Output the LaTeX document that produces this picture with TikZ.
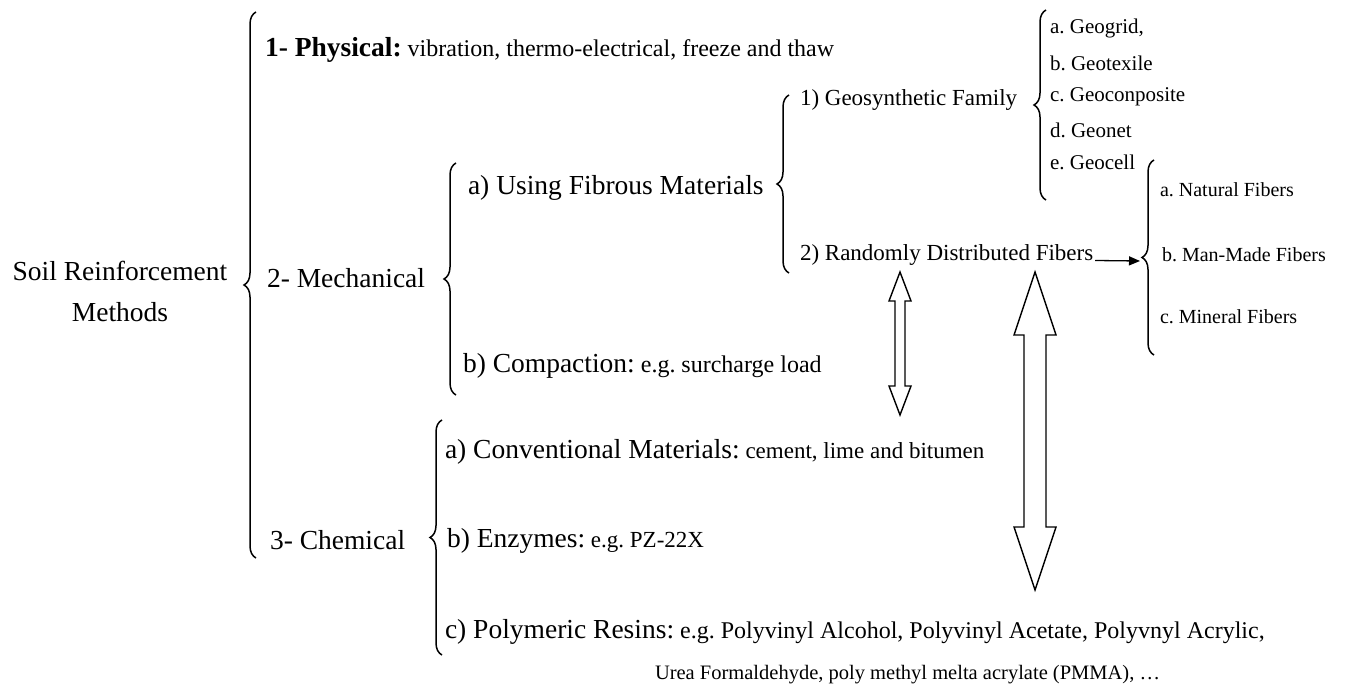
\documentclass[tikz,border=0pt]{standalone}
\usepackage{fontspec}
\setmainfont{Liberation Serif}
\usetikzlibrary{decorations.pathreplacing,arrows.meta}
\frenchspacing

% type sizes (1pt = one unit of the picture)
\newcommand\fsMain{\fontsize{27.5}{33}\selectfont}
\newcommand\fsSub{\fontsize{24}{29}\selectfont}
\newcommand\fsSubS{\fontsize{23}{28}\selectfont}
\newcommand\fsLeaf{\fontsize{23}{28}\selectfont}
\newcommand\fsItem{\fontsize{21}{25}\selectfont}
\newcommand\fsFib{\fontsize{20}{24}\selectfont}

% hollow double-headed arrow: centre x, top y, bottom y, half shaft, half head, head length
\newcommand\hollowarrow[6]{%
  \draw[hollow] (#1,#2) -- ({#1+#5},{#2+#6}) -- ({#1+#4},{#2+#6}) -- ({#1+#4},{#3-#6})
    -- ({#1+#5},{#3-#6}) -- (#1,#3) -- ({#1-#5},{#3-#6}) -- ({#1-#4},{#3-#6})
    -- ({#1-#4},{#2+#6}) -- ({#1-#5},{#2+#6}) -- cycle;}

\begin{document}
\begin{tikzpicture}[x=1pt,y=-1pt,
  txt/.style={anchor=west,inner sep=0pt,outer sep=0pt},
  brc/.style={decorate,decoration={brace,amplitude=12pt},line width=1.5pt},
  hollow/.style={draw=black,line width=1.4pt,fill=white,line join=miter},
  lead/.style={line width=1.3pt,-{Triangle[length=11pt,width=9pt]}}]
\fill[white] (0,0) rectangle (1348,692);
\useasboundingbox (0,0) rectangle (1348,692);

% root
\node[anchor=center,align=center,inner sep=0pt,font=\fontsize{27.5}{41}\selectfont]
  (root) at (120,291) {Soil Reinforcement\\Methods};
\coordinate (rootB) at (256,558);
\coordinate (rootT) at (256,12);
\draw[brc] (rootB) -- (rootT);

% 1 - physical
\node[txt] (phys) at (265,50)
  {{\fsMain\bfseries 1- Physical:}\fsSub{} vibration, thermo-electrical, freeze and thaw};

% 2 - mechanical
\node[txt,font=\fsMain] (mech) at (267,278) {2- Mechanical};
\coordinate (mechB) at (456,395);
\coordinate (mechT) at (456,163);
\draw[brc] (mechB) -- (mechT);

\node[txt,font=\fsMain] (fibrous) at (468,188) {a) Using Fibrous Materials};
\node[txt] (compact) at (463,366) {\fsMain b) Compaction:\fsSub{} e.g. surcharge load};

\coordinate (fibB) at (789,273);
\coordinate (fibT) at (789,95);
\draw[brc] (fibB) -- (fibT);

\node[txt,font=\fsLeaf] (geo) at (800,100) {1) Geosynthetic Family};
\node[txt,font=\fsLeaf] (rand) at (800,255) {2) Randomly Distributed Fibers};

% geosynthetic family
\coordinate (geoB) at (1046,200);
\coordinate (geoT) at (1046,10);
\draw[brc] (geoB) -- (geoT);
\node[txt,font=\fsItem] (g1) at (1050,28)  {a. Geogrid,};
\node[txt,font=\fsItem] (g2) at (1050,63)  {b. Geotexile};
\node[txt,font=\fsItem] (g3) at (1050,97)  {c. Geoconposite};
\node[txt,font=\fsItem] (g4) at (1050,130) {d. Geonet};
\node[txt,font=\fsItem] (g5) at (1050,162) {e. Geocell};

% fibre kinds
\coordinate (kindB) at (1154,355);
\coordinate (kindT) at (1154,160);
\draw[brc] (kindB) -- (kindT);
\coordinate (kindTip) at (1140,261);
\draw[lead] ([xshift=2pt]rand.base east) -- (kindTip);
\node[txt,font=\fsFib] (k1) at (1160,190) {a. Natural Fibers};
\node[txt,font=\fsFib] (k2) at (1162,255) {b. Man-Made Fibers};
\node[txt,font=\fsFib] (k3) at (1160,317) {c. Mineral Fibers};

% 3 - chemical
\node[txt,font=\fsMain] (chem) at (270,540) {3- Chemical};
\coordinate (chemB) at (442,655);
\coordinate (chemT) at (442,420);
\draw[brc] (chemB) -- (chemT);
\node[txt] (conv) at (445,452) {\fsMain a) Conventional Materials:\fsSubS{} cement, lime and bitumen};
\node[txt] (enz) at (447,541) {\fsMain b) Enzymes:\fsSubS{} e.g. PZ-22X};
\node[txt] (poly) at (445,632) {\fsMain c) Polymeric Resins:\fsSub{} e.g. Polyvinyl Alcohol, Polyvinyl Acetate, Polyvnyl Acrylic,};
\node[txt,font=\fontsize{20.5}{24}\selectfont] (poly2) at (655,675) {Urea Formaldehyde, poly methyl melta acrylate (PMMA), \ldots};

% hollow double arrows
\hollowarrow{900}{272}{415}{5}{11}{29}
\hollowarrow{1035}{272}{590}{11}{21}{63}
\end{tikzpicture}
\end{document}
